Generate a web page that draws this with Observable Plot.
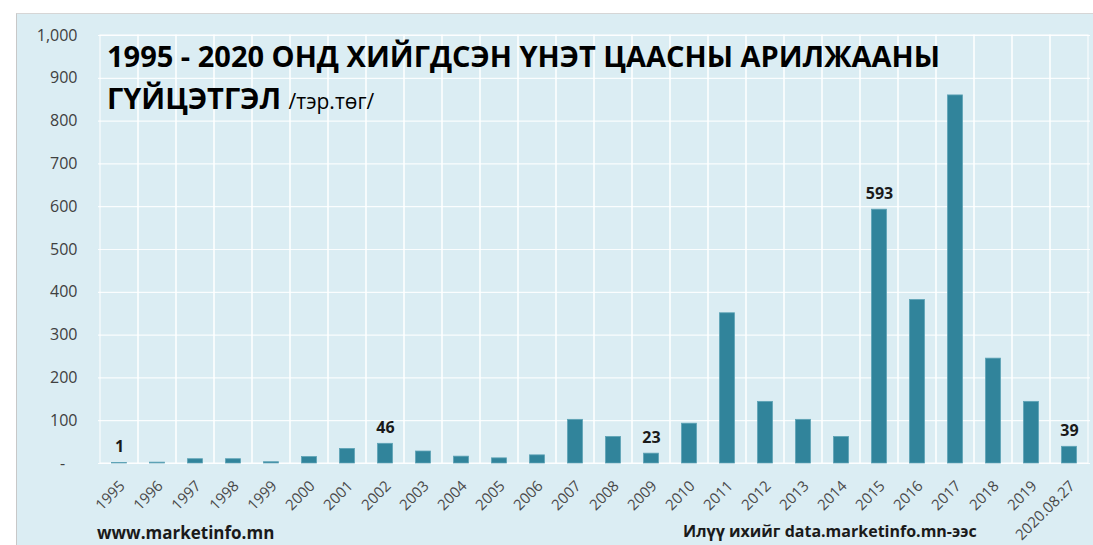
<!DOCTYPE html>
<html>
<head>
<meta charset="utf-8">
<script src="https://cdn.jsdelivr.net/npm/d3@7"></script>
<script src="https://cdn.jsdelivr.net/npm/@observablehq/plot@0.6"></script>
<style>
  html, body { margin: 0; padding: 0; background: #ffffff; }
  body { width: 1093px; height: 545px; overflow: hidden; position: relative; font-family: "Open Sans", sans-serif; }
  #panel { position: absolute; left: 16px; top: 13px; width: 1100px; height: 560px; background: #dbedf3; border-left: 1.5px solid #c8c8c8; border-top: 1.5px solid #d6d6d6; }
  #chart { position: absolute; left: 0; top: 0; }
  .t { position: absolute; white-space: nowrap; color: #000; }
  #title1 { left: 107px; top: 36px; font-size: 29px; font-weight: 700; }
  #title2 { left: 107px; top: 78px; font-size: 29px; font-weight: 700; }
  #title2 span { font-size: 21px; font-weight: 400; }
  #foot1 { left: 97px; top: 521px; font-size: 17px; font-weight: 700; color: #1a1a1a; }
  #foot2 { left: 683px; top: 520px; font-size: 16px; font-weight: 700; color: #1a1a1a; }
</style>
</head>
<body>
<div id="panel"></div>
<div id="chart"></div>
<div class="t" id="title1">1995 - 2020 ОНД ХИЙГДСЭН ҮНЭТ ЦААСНЫ АРИЛЖААНЫ</div>
<div class="t" id="title2">ГҮЙЦЭТГЭЛ <span>/тэр.төг/</span></div>
<div class="t" id="foot1">www.marketinfo.mn</div>
<div class="t" id="foot2">Илүү ихийг data.marketinfo.mn-ээс</div>
<script>
const categories = ["1995","1996","1997","1998","1999","2000","2001","2002","2003","2004","2005","2006","2007","2008","2009","2010","2011","2012","2013","2014","2015","2016","2017","2018","2019","2020.08.27"];
const values = [1, 2, 10, 10, 3, 15, 34, 46, 28, 16, 12, 19, 102, 62, 23, 93, 351, 144, 102, 62, 593, 382, 860, 245, 144, 39];
const labeledCategories = ["1995","2002","2009","2015","2020.08.27"];
const yTicks = [0,100,200,300,400,500,600,700,800,900,1000];

const data = categories.map((c, i) => ({cat: c, value: values[i]}));
const labeled = data.filter(d => labeledCategories.includes(d.cat));

const chart = Plot.plot({
  width: 1093,
  height: 545,
  marginLeft: 98,
  marginRight: 3,
  marginTop: 35,
  marginBottom: 82,
  style: {background: "transparent", fontFamily: "Open Sans, sans-serif"},
  x: {domain: categories, padding: 0, label: null},
  y: {domain: [0, 1000], label: null},
  marks: [
    Plot.gridY(yTicks, {stroke: "#ffffff", strokeOpacity: 0.85, strokeWidth: 1.2}),
    Plot.cell(categories, {x: d => d, fill: "none", stroke: "#ffffff", strokeOpacity: 0.85, strokeWidth: 1.2}),
    Plot.barY(data, {x: "cat", y: "value", fill: "#31849b", stroke: "#5ea3b6", strokeWidth: 0.8, insetLeft: 11.5, insetRight: 11.5}),
    Plot.text(labeled, {x: "cat", y: "value", text: d => String(d.value), lineAnchor: "bottom", dy: -11, fontSize: 16, fontWeight: 700, fill: "#1a1a1a"}),
    Plot.axisY(yTicks, {tickSize: 0, tickPadding: 21, fontSize: 16, fill: "#404040",
      tickFormat: d => d === 0 ? "-\u00a0\u00a0\u00a0" : d3.format(",")(d)}),
    Plot.axisX({tickSize: 0, tickPadding: 10, dy: 10, dx: 3, tickRotate: -45, fontSize: 15, fill: "#4a4a4a"})
  ]
});
document.getElementById("chart").appendChild(chart);
</script>
</body>
</html>
